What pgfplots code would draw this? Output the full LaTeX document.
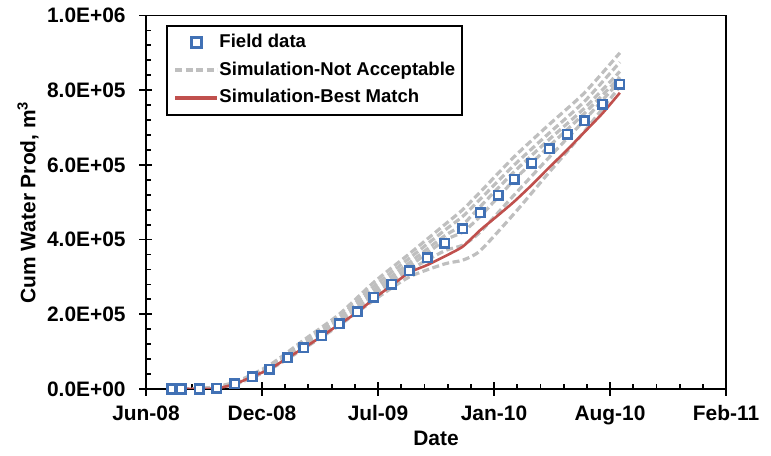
\documentclass[border=0pt]{standalone}
\usepackage{fontspec}
\setmainfont{Liberation Sans}
\usepackage{pgfplots}
\usepackage{pgfplotstable}
\pgfplotsset{compat=1.18}

\definecolor{fieldblue}{RGB}{65,113,181}
\definecolor{bestred}{RGB}{192,80,77}
\definecolor{simgray}{RGB}{191,191,191}

% days since 1 Jun 2008, cumulative water in m3
\pgfplotstableread{
day val
44 0
61 0
92 0
122 1900
153 13400
183 33000
213 53500
244 83800
272 110600
303 141900
333 174800
364 207000
393 245500
424 281100
454 316700
485 351500
515 390100
546 428400
576 472000
607 519400
635 562200
665 604300
695 643400
726 682700
756 718300
787 762200
817 816500
}\fielddata

\pgfplotstableread{
day val
44 0
61 0
92 0
122 1500
153 13000
183 33000
213 53000
244 83000
272 110000
303 141000
333 173000
364 205000
393 242000
424 278000
454 312000
485 332000
515 355000
546 381000
576 425000
607 465000
635 502000
665 546000
695 593000
726 640000
756 688000
787 738000
817 793000
}\bestmatch

\pgfplotstableread{
day s1 s2 s3 s4 s5 s6
44 0 0 0 0 0 0
92 0 0 0 0 0 0
153 18000 16000 15000 14000 12000 13000
213 64000 60000 58000 56000 52000 54000
272 131000 125000 120000 116000 108000 112000
333 200000 192000 186000 180000 170000 176000
393 286000 275000 265000 256000 238000 250000
454 362000 350000 338000 328000 300000 318000
515 440000 425000 410000 398000 335000 370000
546 480000 462000 440000 420000 345000 385000
576 527000 508000 488000 462000 370000 420000
635 622000 600000 582000 560000 470000 520000
695 708000 685000 668000 650000 580000 620000
756 793000 770000 752000 738000 690000 720000
817 900000 875000 850000 835000 810000 825000
}\simdata

\begin{document}
\begin{tikzpicture}
\begin{axis}[
    scale only axis,
    width=290bp, height=186.75bp,
    xmin=0, xmax=1000,
    ymin=0, ymax=1000000,
    xtick={0,200,400,600,800,1000},
    xticklabels={Jun-08,Dec-08,Jul-09,Jan-10,Aug-10,Feb-11},
    ytick={0,200000,400000,600000,800000,1000000},
    yticklabels={0.0E+00,2.0E+05,4.0E+05,6.0E+05,8.0E+05,1.0E+06},
    scaled x ticks=false, scaled y ticks=false,
    minor x tick num=4, minor y tick num=4,
    xtick pos=bottom, ytick pos=left,
    tick align=inside,
    major tick length=3.25bp, minor tick length=2.5bp,
    extra x ticks={0,200,400,600,800,1000}, extra x tick labels={},
    extra y ticks={0,200000,400000,600000,800000,1000000}, extra y tick labels={},
    extra tick style={tick align=outside, major tick length=3.25bp},
    tick style={black, line width=0.9bp},
    axis line style={black, line width=0.9bp},
    tick label style={font=\fontsize{10.5}{12}\selectfont\bfseries},
    yticklabel style={anchor=east, inner sep=0pt, xshift=-10bp},
    xticklabel style={anchor=north, inner sep=0pt, yshift=-8bp},
    every axis x label/.style={at={(rel axis cs:0.5,0)}, anchor=center, yshift=-24.5bp,
        font=\fontsize{10.5}{12}\selectfont\bfseries},
    every axis y label/.style={at={(rel axis cs:0,0.5)}, anchor=center, xshift=-59bp, rotate=90,
        font=\fontsize{10.5}{12}\selectfont\bfseries},
    xlabel={Date},
    ylabel={Cum Water Prod, m\textsuperscript{3}},
    legend image code/.code={\draw[mark repeat=2,mark phase=2,#1] plot coordinates {(0bp,0bp) (10.5bp,0bp) (21bp,0bp)};},
    legend cell align=left,
    legend style={at={(rel axis cs:0,1)}, anchor=north west, xshift=10bp, yshift=-4.75bp,
        draw=black, line width=1bp,
        font=\fontsize{9.3}{11}\selectfont\bfseries,
        inner xsep=3.25bp, inner ysep=3.9bp, row sep=5.2bp,
        nodes={inner sep=0pt, text height=6.8bp, text depth=1.9bp},
        /tikz/every even column/.append style={column sep=2.5bp}},
]
\addlegendimage{only marks, mark=square*, mark size=2.4bp, mark options={fill=white, draw=fieldblue, line width=1.5bp}}
\addlegendentry{Field data}
\addlegendimage{simgray, line width=2bp, dash pattern=on 3.5bp off 1.75bp}
\addlegendentry{Simulation-Not Acceptable}
\addlegendimage{bestred, line width=1.8bp}
\addlegendentry{Simulation-Best Match}

\addplot[forget plot, simgray, line width=1.6bp, dash pattern=on 3.5bp off 1.75bp, smooth, tension=0.4] table[x=day, y=s1] {\simdata};
\addplot[forget plot, simgray, line width=1.6bp, dash pattern=on 3.5bp off 1.75bp, smooth, tension=0.4] table[x=day, y=s2] {\simdata};
\addplot[forget plot, simgray, line width=1.6bp, dash pattern=on 3.5bp off 1.75bp, smooth, tension=0.4] table[x=day, y=s3] {\simdata};
\addplot[forget plot, simgray, line width=1.6bp, dash pattern=on 3.5bp off 1.75bp, smooth, tension=0.4] table[x=day, y=s4] {\simdata};
\addplot[forget plot, simgray, line width=1.6bp, dash pattern=on 3.5bp off 1.75bp, smooth, tension=0.4] table[x=day, y=s5] {\simdata};
\addplot[forget plot, simgray, line width=1.6bp, dash pattern=on 3.5bp off 1.75bp, smooth, tension=0.4] table[x=day, y=s6] {\simdata};

\addplot[forget plot, bestred, line width=1.3bp, smooth, tension=0.3] table[x=day, y=val] {\bestmatch};

\addplot[forget plot, only marks, mark=square*, mark size=2.1bp, mark options={fill=white, draw=fieldblue, line width=1.3bp}] table[x=day, y=val] {\fielddata};
\end{axis}
\pgfresetboundingbox
\path ([shift={(-73bp,-33.5bp)}]current axis.south west) rectangle ([shift={(22.5bp,7.75bp)}]current axis.north east);
\end{tikzpicture}
\end{document}
